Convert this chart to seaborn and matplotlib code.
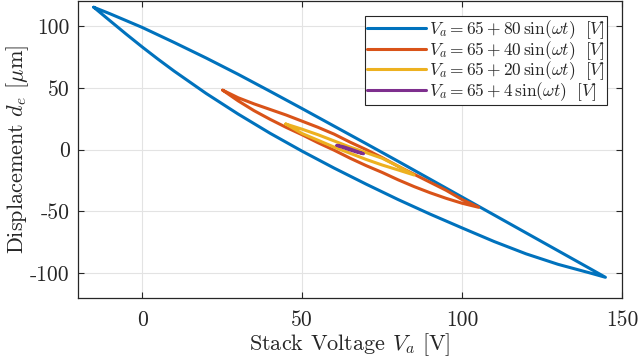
import numpy as np
import pandas as pd
import matplotlib
matplotlib.use("Agg")
import matplotlib.pyplot as plt
import seaborn as sns

# loops: "up" branch from min voltage to max, "down" branch back
labels = [r"$V_a = 65 + 80\,\sin(\omega t)\ \ [V]$",
          r"$V_a = 65 + 40\,\sin(\omega t)\ \ [V]$",
          r"$V_a = 65 + 20\,\sin(\omega t)\ \ [V]$",
          r"$V_a = 65 + 4\,\sin(\omega t)\ \ [V]$"]
colors = ["#0072BD", "#D95319", "#EDB120", "#7E2F8E"]

v_up_80 = [-15.1, -10, -5, 0, 5, 10, 20, 30, 40, 50, 60, 70, 80, 90, 100, 110, 120, 130, 140, 144.8]
d_up_80 = [115.3, 104.3, 93.6, 83.2, 73.2, 63.6, 45.5, 28.8, 13.2, -1.3, -15, -28, -40.5, -52.3, -63.5, -74.5, -84.5, -93, -100, -103.5]
v_dn_80 = [144.8, 140, 130, 120, 110, 100, 90, 80, 70, 60, 50, 40, 30, 20, 10, 0, -5, -10, -15.1]
d_dn_80 = [-103.5, -96.5, -82, -67.5, -53, -38.5, -24, -9.5, 4.8, 19, 33.2, 47.2, 61, 74.2, 86.8, 99, 104.5, 110, 115.3]

v_up_40 = [25.2, 30, 35, 40, 45, 50, 55, 60, 65, 70, 75, 80, 85, 90, 95, 100, 105.2]
d_up_40 = [48.1, 39.5, 31.5, 24.5, 18, 12, 5.5, -0.5, -7, -13, -18.5, -24.5, -30, -35, -39.5, -43.5, -46.8]
v_dn_40 = [105.2, 100, 95, 90, 85, 80, 75, 70, 65, 60, 55, 50, 45, 40, 35, 30, 25.2]
d_dn_40 = [-46.8, -40.5, -33, -26.5, -20, -13.5, -6.5, 0, 6, 12.5, 18, 23, 28, 32.5, 37, 42, 48.1]

v_up_20 = [44.9, 50, 55, 60, 65, 70, 75, 80, 85]
d_up_20 = [20.7, 13, 7.5, 2, -3, -8, -12.5, -16.5, -20.6]
v_dn_20 = [85, 80, 75, 70, 65, 60, 55, 50, 44.9]
d_dn_20 = [-20.6, -13.5, -7, -2.5, 2, 7, 12, 16.5, 20.7]

v_up_4 = [60.9, 63, 65, 67, 69.2]
d_up_4 = [3.4, 1.5, -0.3, -2, -3.4]
v_dn_4 = [69.2, 67, 65, 63, 60.9]
d_dn_4 = [-3.4, -1.3, 0.5, 2.2, 3.4]

loops = [(v_up_80 + v_dn_80, d_up_80 + d_dn_80),
         (v_up_40 + v_dn_40, d_up_40 + d_dn_40),
         (v_up_20 + v_dn_20, d_up_20 + d_dn_20),
         (v_up_4 + v_dn_4, d_up_4 + d_dn_4)]

frames = []
for lab, (v, d) in zip(labels, loops):
    frames.append(pd.DataFrame({"V": v, "d": d, "loop": lab, "step": np.arange(len(v))}))
df = pd.concat(frames, ignore_index=True)

sns.set_style("ticks")
plt.rcParams["font.family"] = "serif"
plt.rcParams["font.serif"] = ["cmr10"]
plt.rcParams["mathtext.fontset"] = "cm"
plt.rcParams["axes.unicode_minus"] = False

fig, ax = plt.subplots(figsize=(6.4, 3.63), dpi=100)
fig.subplots_adjust(left=0.122, right=0.972, top=0.996, bottom=0.18)

sns.lineplot(data=df, x="V", y="d", hue="loop", hue_order=labels, palette=colors,
             sort=False, estimator=None, units="loop", linewidth=2.2, ax=ax)

ax.set_xlim(-20, 150)
ax.set_ylim(-120, 120)
ax.set_xticks([0, 50, 100, 150])
ax.set_yticks([-100, -50, 0, 50, 100])
ax.grid(True, color="#e3e3e3", linewidth=0.8)
ax.tick_params(direction="in", top=True, right=True, labelsize=15.5, length=4, pad=6)
ax.tick_params(axis="x", pad=9)
for s in ax.spines.values():
    s.set_linewidth(0.9)
    s.set_color("#262626")
ax.set_xlabel(r"Stack Voltage $V_a$ [V]", fontsize=16, labelpad=1)
ax.set_ylabel(r"Displacement $d_e$ $[\mu\mathrm{m}]$", fontsize=16)
ax.yaxis.set_label_coords(-0.086, 0.5)

leg = ax.legend(loc="upper right", fontsize=12.5, handlelength=3.4, handletextpad=0.15,
                borderpad=0.12, labelspacing=-0.12, fancybox=False, framealpha=1,
                edgecolor="#262626", borderaxespad=0.85)
leg.get_frame().set_linewidth(0.8)
for line in leg.get_lines():
    line.set_linewidth(2.2)

fig.savefig("out.png", dpi=100)
